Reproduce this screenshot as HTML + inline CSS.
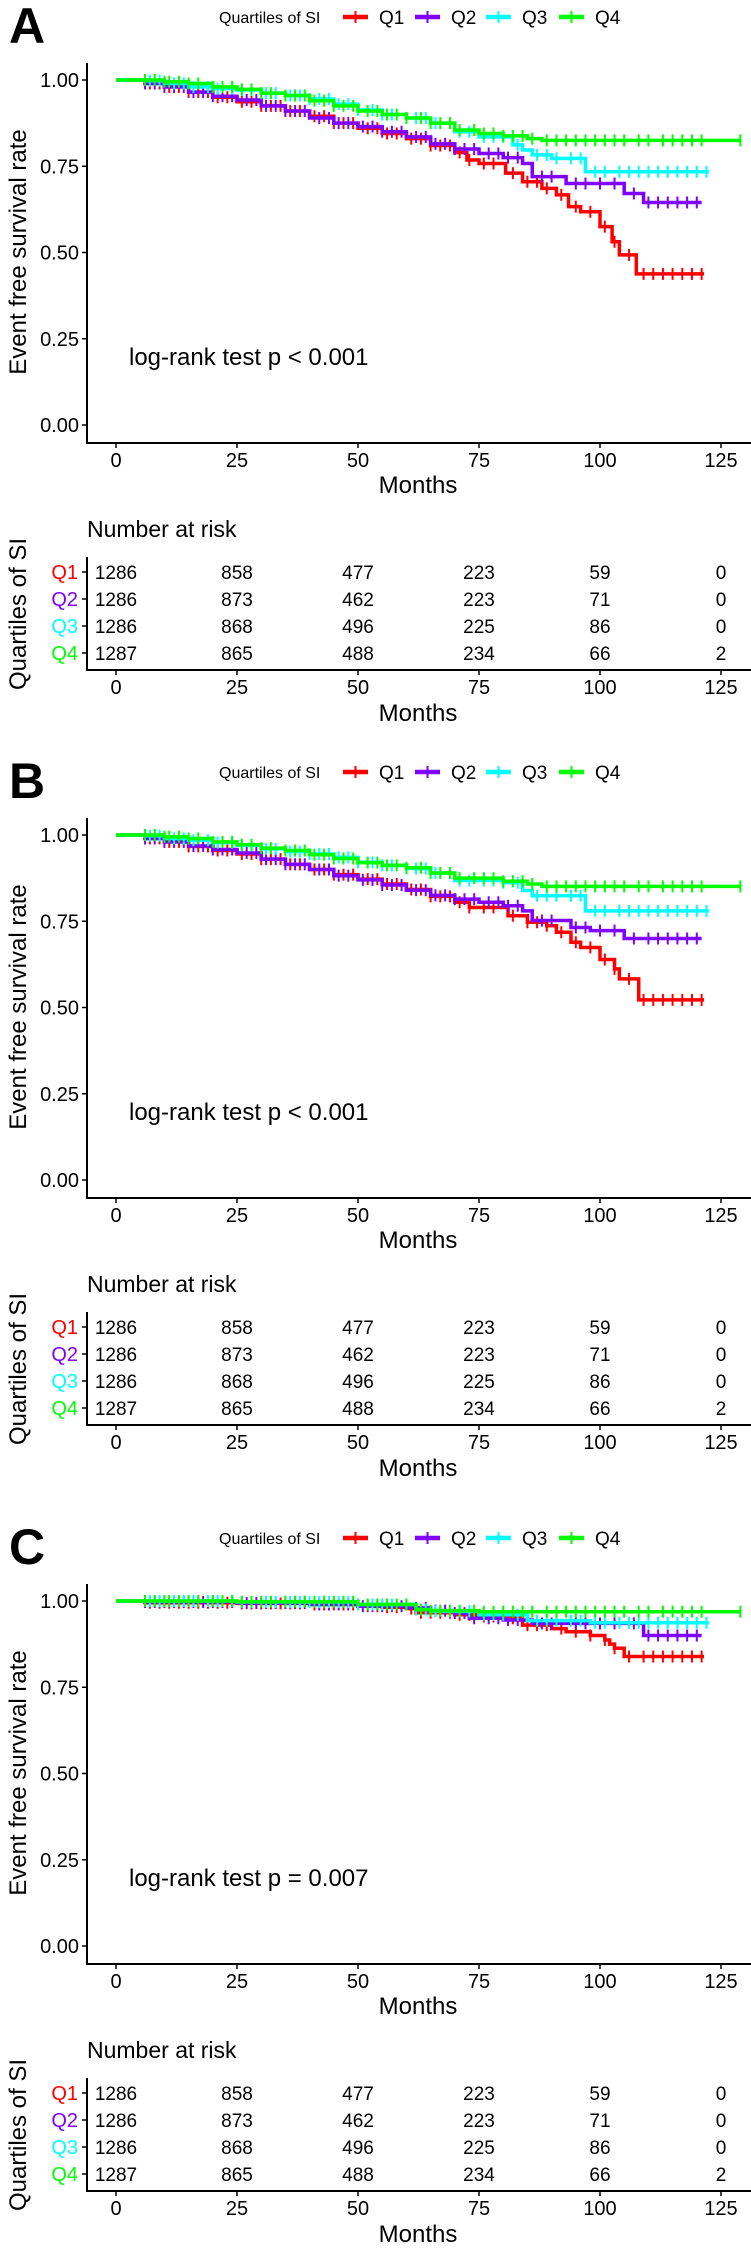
<!DOCTYPE html>
<html>
<head>
<meta charset="utf-8">
<style>
html,body{margin:0;padding:0;background:#fff;}
svg{display:block;font-family:"Liberation Sans",Arial,sans-serif;}
</style>
</head>
<body>
<svg id="fig" width="751" height="2250" viewBox="0 0 751 2250" xmlns="http://www.w3.org/2000/svg"></svg>
<script>
// ---------- data ----------
const seriesNames = ["Q1","Q2","Q3","Q4"];
const seriesColors = ["#ff0000","#7f00ff","#00ffff","#00ff00"];
const panelLabels = ["A","B","C"];
const pValueTexts = ["log-rank test p < 0.001","log-rank test p < 0.001","log-rank test p = 0.007"];
const xTicks = [0,25,50,75,100,125];
const yTicks = [0,0.25,0.5,0.75,1];
const yTickLabels = ["0.00","0.25","0.50","0.75","1.00"];
const riskQ1 = [1286,858,477,223,59,0];
const riskQ2 = [1286,873,462,223,71,0];
const riskQ3 = [1286,868,496,225,86,0];
const riskQ4 = [1287,865,488,234,66,2];

// Panel A step curves
const aQ1T = [0,6,10,15,20,25,30,35,40,45,50,55,60,65,70,72.5,75,80.5,84,88,91,93.5,96,100,102.5,104,107.5];
const aQ1S = [1,.99,.98,.965,.95,.937,.925,.91,.895,.875,.86,.845,.83,.81,.79,.768,.758,.73,.705,.686,.667,.633,.618,.575,.531,.493,.438];
const aQ2T = [0,6,10,15,20,25,30,35,40,45,50,55,60,65,70,75,80,84,86,93,105,109];
const aQ2S = [1,.99,.98,.965,.953,.942,.925,.91,.89,.875,.865,.85,.835,.815,.80,.787,.775,.758,.72,.70,.671,.645];
const aQ3T = [0,6,10,15,20,25,30,35,40,45,50,55,60,65,70,75,82,84,86,90,97];
const aQ3S = [1,.998,.99,.98,.975,.971,.962,.955,.945,.93,.913,.9,.89,.875,.85,.835,.812,.797,.783,.773,.734];
const aQ4T = [0,6,10,15,20,25,30,35,40,45,50,55,60,65,70,75,80,85,88];
const aQ4S = [1,1,.995,.99,.98,.973,.962,.955,.94,.925,.91,.9,.89,.875,.855,.845,.838,.83,.825];
// Panel B step curves
const bQ1T = [0,6,10,15,20,25,30,35,40,45,50,55,60,65,70,73,81,85,89,91,94,96,100,103,104,108];
const bQ1S = [1,.99,.98,.967,.955,.945,.93,.915,.9,.885,.872,.858,.842,.822,.805,.79,.766,.747,.737,.718,.689,.674,.639,.612,.583,.522];
const bQ2T = [0,6,10,15,20,25,30,35,40,45,50,55,60,65,70,75,80,84,86,94,98,105];
const bQ2S = [1,.99,.98,.968,.958,.948,.93,.915,.9,.882,.87,.855,.84,.825,.814,.805,.795,.78,.752,.732,.723,.70];
const bQ3T = [0,6,10,15,20,25,30,35,40,45,50,55,60,65,70,80,84,86,97];
const bQ3S = [1,.998,.99,.985,.978,.97,.96,.952,.945,.935,.921,.912,.903,.89,.868,.862,.839,.824,.78];
const bQ4T = [0,6,10,15,20,25,30,35,40,45,50,55,60,65,70,80,85,88];
const bQ4S = [1,1,.995,.99,.98,.972,.962,.955,.943,.932,.92,.912,.905,.89,.875,.866,.858,.851];
// Panel C step curves
const cQ1T = [0,6,25,40,50,55,60,62,70,75,80,84,90,93,98,101,102,103,105];
const cQ1S = [1,.995,.993,.99,.985,.982,.978,.966,.96,.955,.95,.93,.92,.911,.90,.887,.875,.863,.839];
const cQ2T = [0,6,25,40,50,60,65,70,73,80,86,109];
const cQ2S = [1,.997,.994,.99,.985,.98,.972,.965,.95,.945,.935,.90];
const cQ3T = [0,6,25,50,62,65,75,85,98];
const cQ3S = [1,1,.997,.99,.975,.97,.96,.943,.937];
const cQ4T = [0,6,25,50,62,65,75];
const cQ4S = [1,1,.998,.99,.975,.972,.969];
// End of follow-up per series
const endQ1 = 121.5, endQ2 = 121, endQ3 = 122.5, endQ4 = 129;
// Censoring times per series
const cenQ1 = [7,9,11,13,15,17,19,21,23,26,28,30,32,34,36,38,41,43,45,47,49,52,54,56,58,61,63,65,67,69,71,73,76,78,82,85,87,89,92,95,98,101,103,106,109,111,113,115,117,119,121];
const cenQ2 = [6,8,10,12,14,16,18,20,22,24,27,29,31,33,35,37,39,42,44,46,48,51,53,55,57,59,62,64,66,68,70,72,74,77,79,81,83,88,90,95,97,100,103,107,110,112,114,116,118,120];
const cenQ3 = [7,9,12,14,16,19,21,24,26,28,31,33,36,38,40,42,44,46,48,50,53,55,57,60,62,64,66,69,71,73,76,78,80,83,87,89,91,94,96,99,101,104,106,108,110,112,114,116,118,120,122];
const cenQ4 = [6,8,10,11,13,15,17,20,22,24,26,28,30,32,35,37,39,41,43,45,47,49,52,54,56,58,60,63,65,67,69,71,74,76,78,80,82,84,86,89,91,93,95,97,99,101,103,105,108,110,113,115,117,119,121,129];

const panelCurves = [
  [[aQ1T,aQ1S],[aQ2T,aQ2S],[aQ3T,aQ3S],[aQ4T,aQ4S]],
  [[bQ1T,bQ1S],[bQ2T,bQ2S],[bQ3T,bQ3S],[bQ4T,bQ4S]],
  [[cQ1T,cQ1S],[cQ2T,cQ2S],[cQ3T,cQ3S],[cQ4T,cQ4S]]
];
const seriesEnds = [endQ1,endQ2,endQ3,endQ4];
const seriesCensors = [cenQ1,cenQ2,cenQ3,cenQ4];
const riskRows = [riskQ1,riskQ2,riskQ3,riskQ4];

// ---------- drawing ----------
const NS = "http://www.w3.org/2000/svg";
const svg = document.getElementById("fig");
const panelOffsets = [0,755,1521];
function xS(t){ return 116 + t*4.84; }
function yS(s){ return 80 + (1-s)*345; }
function mk(tag, attrs, parent){
  const e = document.createElementNS(NS, tag);
  for (const k in attrs) e.setAttribute(k, attrs[k]);
  (parent||svg).appendChild(e);
  return e;
}
function survAt(T,S,t){ let v=S[0]; for(let i=0;i<T.length;i++){ if(T[i]<=t) v=S[i]; } return v; }

panelLabels.forEach((lab, p) => {
  const g = mk("g", {transform:"translate(0,"+panelOffsets[p]+")"});
  
  

  const L = mk("text", {x:9, y:43, "font-size":50, "font-weight":"bold", fill:"#000"}, g);
  L.textContent = lab;
  
  

  // legend
  const lg = mk("g", {}, g);
  
  
  const lt = mk("text", {x:219, y:23, "font-size":16, fill:"#000"}, lg);
  lt.textContent = "Quartiles of SI";
  
  
  const keyX = [343,415,486,559];
  seriesNames.forEach((n,i) => {
    const eg = mk("g", {}, lg);
    
    
    mk("line", {x1:keyX[i], x2:keyX[i]+25, y1:17, y2:17, stroke:seriesColors[i], "stroke-width":4.5}, eg);
    mk("line", {x1:keyX[i]+12.5, x2:keyX[i]+12.5, y1:11, y2:23, stroke:seriesColors[i], "stroke-width":2}, eg);
    const t = mk("text", {x:keyX[i]+36, y:24, "font-size":19, fill:"#000"}, eg);
    t.textContent = n;
  });

  // axes
  const ax = mk("g", {}, g);
  
  
  mk("line", {x1:87, x2:87, y1:63, y2:444, stroke:"#000", "stroke-width":2}, ax);
  mk("line", {x1:86, x2:751, y1:443, y2:443, stroke:"#000", "stroke-width":2}, ax);
  yTicks.forEach((v,i) => {
    mk("line", {x1:82, x2:87, y1:yS(v), y2:yS(v), stroke:"#000", "stroke-width":1.5}, ax);
    const t = mk("text", {x:79, y:yS(v)+7, "font-size":20, "text-anchor":"end", fill:"#000"}, ax);
    t.textContent = yTickLabels[i];
  });
  xTicks.forEach(v => {
    mk("line", {x1:xS(v), x2:xS(v), y1:443, y2:448, stroke:"#000", "stroke-width":1.5}, ax);
    const t = mk("text", {x:xS(v), y:467, "font-size":20, "text-anchor":"middle", fill:"#000"}, ax);
    t.textContent = v;
  });
  const xt = mk("text", {x:418, y:493, "font-size":24, "text-anchor":"middle", fill:"#000"}, g);
  xt.textContent = "Months";
  
  
  const yt = mk("text", {x:0, y:0, "font-size":24, "text-anchor":"middle", fill:"#000", transform:"translate(26,252) rotate(-90)"}, g);
  yt.textContent = "Event free survival rate";
  
  
  const pv = mk("text", {x:129, y:365, "font-size":24, fill:"#000"}, g);
  pv.textContent = pValueTexts[p];
  
  

  panelCurves[p].forEach((c,i) => {
    const T=c[0], S=c[1];
    let d = "M"+xS(T[0])+","+yS(S[0]);
    for (let k=1;k<T.length;k++){
      d += " H"+xS(T[k])+" V"+yS(S[k]);
    }
    d += " H"+xS(seriesEnds[i]);
    const path = mk("path", {d:d, fill:"none", stroke:seriesColors[i], "stroke-width":3.5}, g);
    
    
    const cg = mk("g", {stroke:seriesColors[i], "stroke-width":2}, g);
    
    
    seriesCensors[i].forEach(ct => {
      if (ct > seriesEnds[i]) return;
      const y = yS(survAt(T,S,ct));
      mk("line", {x1:xS(ct), x2:xS(ct), y1:y-6, y2:y+6}, cg);
    });
  });

  // risk table
  const rt = mk("g", {}, g);
  
  
  const nar = mk("text", {x:87, y:537, "font-size":23, fill:"#000"}, rt);
  nar.textContent = "Number at risk";
  
  
  mk("line", {x1:87, x2:87, y1:557, y2:671, stroke:"#000", "stroke-width":2}, rt);
  mk("line", {x1:86, x2:751, y1:670, y2:670, stroke:"#000", "stroke-width":2}, rt);
  const rowY = [572,599,626,653];
  riskRows.forEach((row,i) => {
    mk("line", {x1:82, x2:87, y1:rowY[i], y2:rowY[i], stroke:"#000", "stroke-width":1.5}, rt);
    const rl = mk("text", {x:78, y:rowY[i]+7, "font-size":20, "text-anchor":"end", fill:seriesColors[i]}, rt);
    rl.textContent = seriesNames[i];
    row.forEach((v,j) => {
      const t = mk("text", {x:xS(xTicks[j]), y:rowY[i]+7, "font-size":19, "text-anchor":"middle", fill:"#000"}, rt);
      t.textContent = v;
    });
  });
  xTicks.forEach(v => {
    mk("line", {x1:xS(v), x2:xS(v), y1:670, y2:675, stroke:"#000", "stroke-width":1.5}, rt);
    const t = mk("text", {x:xS(v), y:694, "font-size":20, "text-anchor":"middle", fill:"#000"}, rt);
    t.textContent = v;
  });
  const rx = mk("text", {x:418, y:721, "font-size":24, "text-anchor":"middle", fill:"#000"}, rt);
  rx.textContent = "Months";
  const ry = mk("text", {x:0, y:0, "font-size":24, "text-anchor":"middle", fill:"#000", transform:"translate(26,614) rotate(-90)"}, rt);
  ry.textContent = "Quartiles of SI";
});
</script>
</body>
</html>
